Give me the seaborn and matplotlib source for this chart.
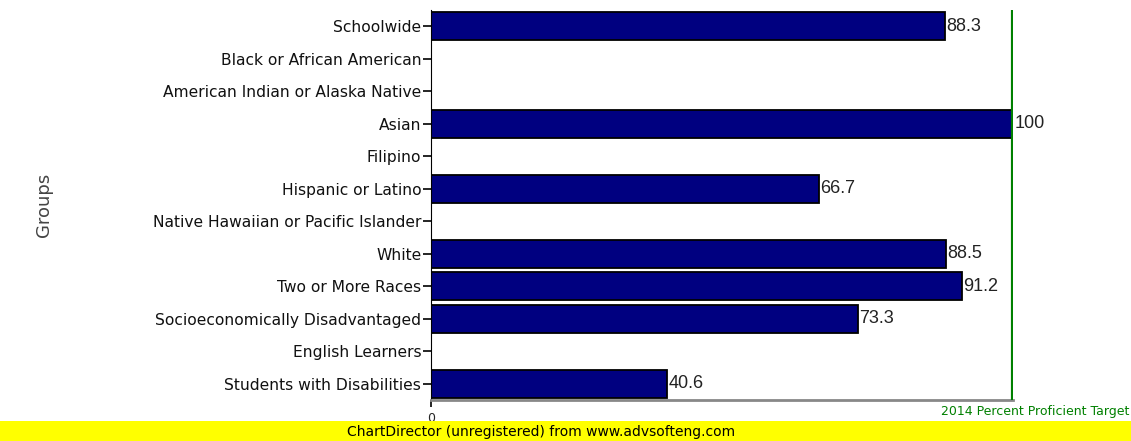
import matplotlib
matplotlib.use("Agg")
import matplotlib.pyplot as plt
import seaborn as sns
import pandas as pd
import numpy as np

groups = ["Schoolwide", "Black or African American", "American Indian or Alaska Native",
          "Asian", "Filipino", "Hispanic or Latino", "Native Hawaiian or Pacific Islander",
          "White", "Two or More Races", "Socioeconomically Disadvantaged",
          "English Learners", "Students with Disabilities"]
values = [88.3, np.nan, np.nan, 100, np.nan, 66.7, np.nan, 88.5, 91.2, 73.3, np.nan, 40.6]
target = 100

df = pd.DataFrame({"group": groups, "value": values})

sns.set_style("white")
plt.rcParams['font.family'] = ['DejaVu Sans']

fig = plt.figure(figsize=(11.31, 4.41), dpi=100)
ax = fig.add_axes([431/1131, 1 - 400/441, (1013 - 431)/1131, (400 - 10)/441])

sns.barplot(data=df, x="value", y="group", order=groups, color="#000080",
            edgecolor="black", linewidth=1.3, width=0.87, saturation=1, ax=ax)

ax.set_xlim(0, 100)
ax.set_ylim(len(groups) - 0.5, -0.5)

for i, v in enumerate(values):
    if not np.isnan(v):
        ax.text(v + 0.2, i, f"{v:g}", va="center", ha="left", fontsize=13,
                color="#222222", family="Liberation Sans")

ax.axvline(target, color="#008000", linewidth=3, zorder=5)

ax.set_xticks([0])
ax.set_xticklabels(["0"], fontsize=9)
ax.tick_params(axis="y", length=6, width=1.2, color="black", labelsize=11.2,
               labelcolor="#111111", left=True, pad=1)
ax.tick_params(axis="x", length=5, width=1.2, color="black", bottom=True)
ax.set_ylabel("Groups", fontsize=13, color="#444444", labelpad=0)
ax.yaxis.set_label_coords(-0.65, 0.5)
ax.set_xlabel("")

for s in ["top", "right"]:
    ax.spines[s].set_visible(False)
ax.spines["left"].set_color("black")
ax.spines["bottom"].set_color("#888888")
ax.spines["bottom"].set_linewidth(2)

fig.text(1129/1131, 1 - 411/441, "2014 Percent Proficient Target", color="#008000",
         fontsize=9, ha="right", va="center")

# yellow banner
fig.patches.append(plt.Rectangle((0, 0), 1, 20/441, transform=fig.transFigure,
                                 facecolor="#ffff00", edgecolor="none", zorder=10))
fig.text(0.478, 9/441, "ChartDirector (unregistered) from www.advsofteng.com",
         fontsize=10, ha="center", va="center", color="black", zorder=11)

fig.savefig("out.png", dpi=100)
